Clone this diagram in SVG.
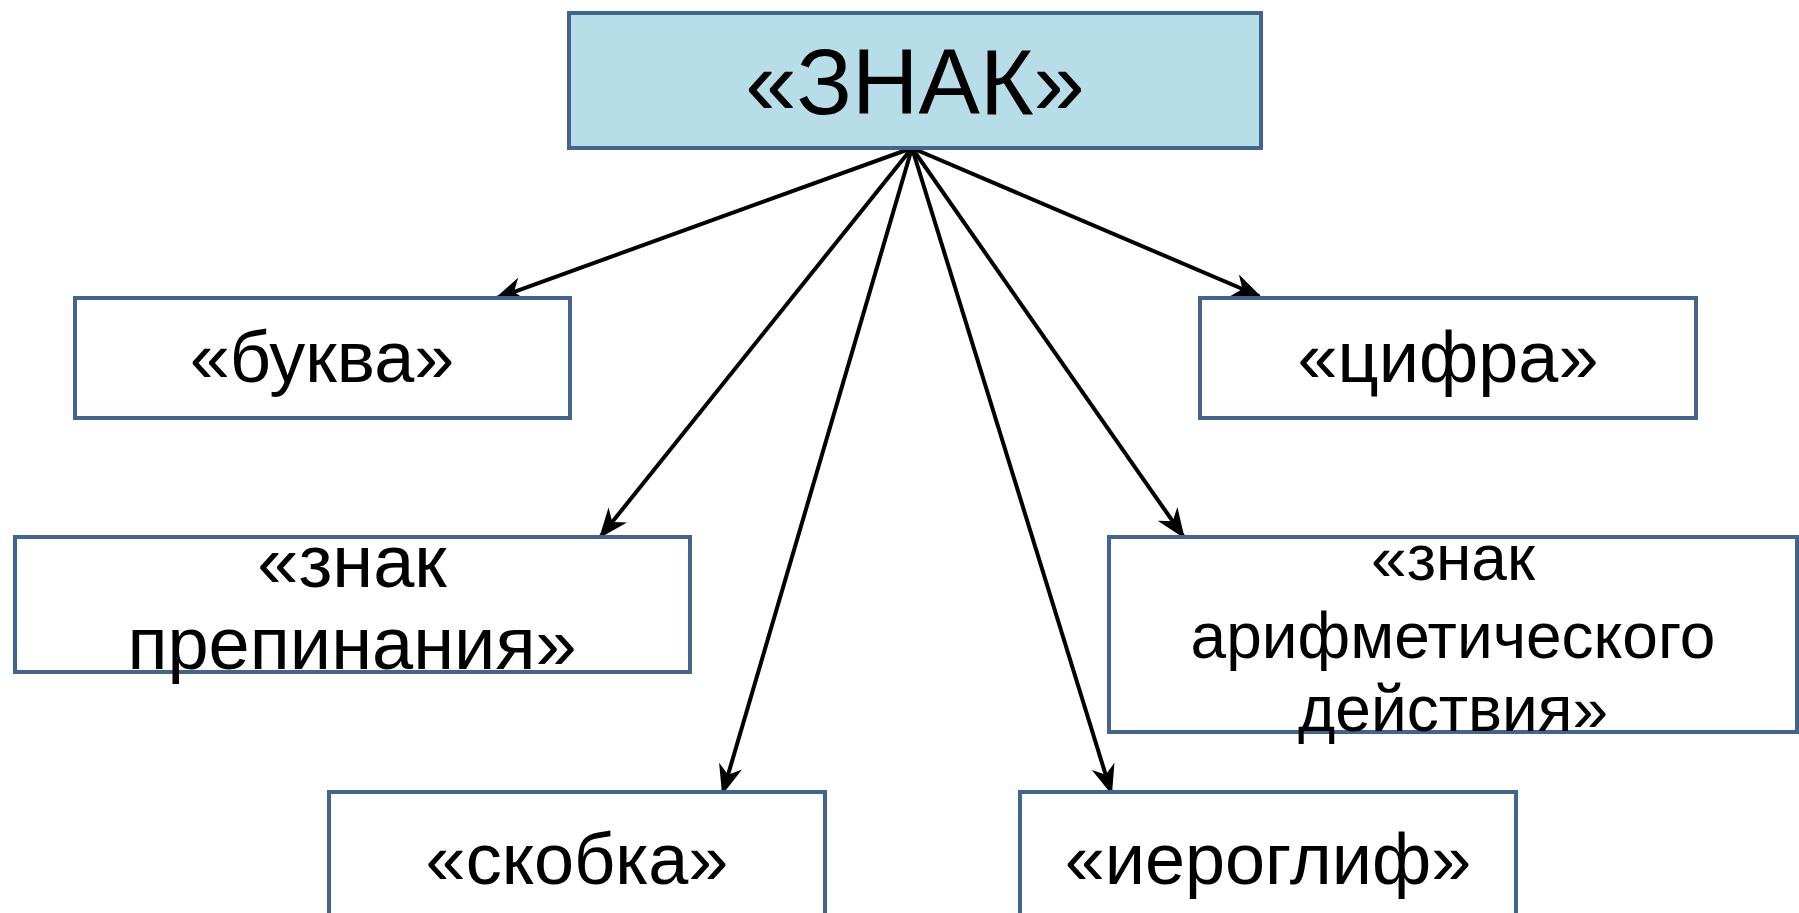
<svg xmlns="http://www.w3.org/2000/svg" width="1799" height="913" viewBox="0 0 1799 913">
<defs>
<style>
.box{fill:#ffffff;stroke:#41658f;stroke-width:4}
.top{fill:#b7dde8;stroke:#41658f;stroke-width:4}
text{font-family:"Liberation Sans",Arial,sans-serif;fill:#000;text-anchor:middle}
.conn{stroke:#000;stroke-width:4;fill:none;marker-end:url(#arr)}
</style>
<marker id="arr" viewBox="0 0 20 16" refX="18" refY="8" markerWidth="7.5" markerHeight="6" markerUnits="strokeWidth" orient="auto">
<path d="M0,0 L20,8 L0,16 L6,8 Z" fill="#000"/>
</marker>
</defs>
<rect width="1799" height="913" fill="#fff"/>
<g id="connectors">
<line class="conn" x1="912" y1="148" x2="497" y2="298"/>
<line class="conn" x1="912" y1="148" x2="1259" y2="296"/>
<line class="conn" x1="912" y1="148" x2="601" y2="536"/>
<line class="conn" x1="912" y1="148" x2="1183" y2="536"/>
<line class="conn" x1="912" y1="148" x2="723" y2="792"/>
<line class="conn" x1="912" y1="148" x2="1111" y2="792"/>
</g>
<g id="node-znak">
<rect class="top" x="569" y="13" width="692" height="135"/>
<text x="915" y="114" font-size="92">«ЗНАК»</text>
</g>
<g id="node-bukva">
<rect class="box" x="75" y="298" width="495" height="120"/>
<text x="322" y="382" font-size="72">«буква»</text>
</g>
<g id="node-cifra">
<rect class="box" x="1200" y="298" width="496" height="120"/>
<text x="1448" y="382" font-size="72">«цифра»</text>
</g>
<g id="node-prepinaniya">
<rect class="box" x="15" y="537" width="675" height="135"/>
<text x="352" y="587" font-size="74">«знак</text>
<text x="352" y="669" font-size="74">препинания»</text>
</g>
<g id="node-arifm">
<rect class="box" x="1109" y="537" width="688" height="195"/>
<text x="1453" y="580" font-size="64">«знак</text>
<text x="1453" y="658" font-size="64">арифметического</text>
<text x="1453" y="731" font-size="64">действия»</text>
</g>
<g id="node-skobka">
<rect class="box" x="329" y="792" width="496" height="130"/>
<text x="577" y="884" font-size="72">«скобка»</text>
</g>
<g id="node-ieroglif">
<rect class="box" x="1020" y="792" width="496" height="130"/>
<text x="1268" y="884" font-size="72">«иероглиф»</text>
</g>
</svg>
